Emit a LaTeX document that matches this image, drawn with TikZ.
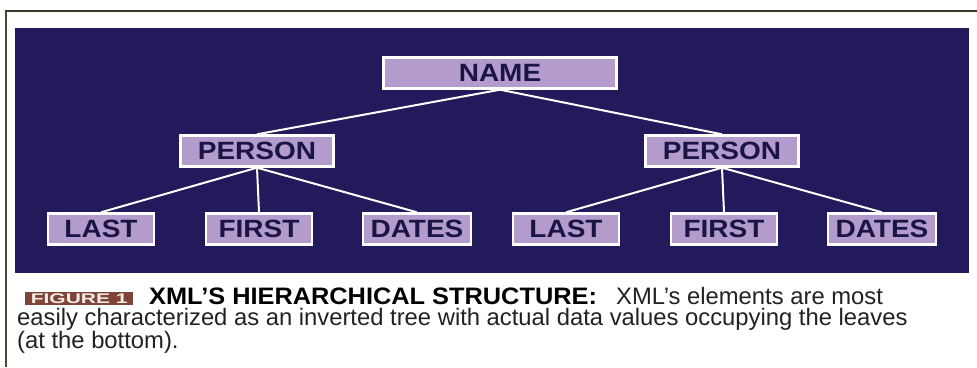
\documentclass[tikz,border=0pt]{standalone}
\usepackage{fontspec}
\usepackage{graphicx}
\usetikzlibrary{backgrounds}
\setmainfont{Liberation Sans}
\definecolor{panel}{HTML}{221A5A}
\definecolor{boxfill}{HTML}{B39CCB}
\definecolor{boxtext}{HTML}{1A1448}
\definecolor{badge}{HTML}{7E4438}
\definecolor{badgetext}{HTML}{F4ECE8}
\definecolor{rule}{HTML}{3A3A24}
\definecolor{captext}{HTML}{222222}
\newcommand{\wider}[2]{\scalebox{#1}[1]{#2}}
\newcommand{\figbadge}{\raisebox{-1pt}{\setlength{\fboxsep}{0pt}\colorbox{badge}{\vbox to 13pt{\vfil\hbox to 108pt{\hfil\textcolor{badgetext}{\bfseries\fontsize{14}{14}\selectfont\wider{1.5}{FIGURE 1}}\hfil}\vfil}}}}
\begin{document}
\begin{tikzpicture}[x=1pt,y=-1pt,
  tbox/.style={draw=white, line width=2.4pt, fill=boxfill, text=boxtext,
    font=\bfseries\fontsize{25}{25}\selectfont, inner sep=0pt, minimum height=31pt},
  link/.style={draw=white, line width=2pt}]
\useasboundingbox (0,0) rectangle (977,367);
% nodes
\node[tbox, minimum width=233pt] (name) at (500,73) {\wider{1.12}{NAME}};
\node[tbox, minimum width=153pt] (p1) at (257,151) {\wider{1.12}{PERSON}};
\node[tbox, minimum width=153pt] (p2) at (722,151) {\wider{1.12}{PERSON}};
\node[tbox, minimum width=106pt] (l1) at (101,229) {\wider{1.12}{LAST}};
\node[tbox, minimum width=106pt] (f1) at (259,229) {\wider{1.12}{FIRST}};
\node[tbox, minimum width=108pt] (d1) at (417,229) {\wider{1.12}{DATES}};
\node[tbox, minimum width=106pt] (l2) at (566,229) {\wider{1.12}{LAST}};
\node[tbox, minimum width=106pt] (f2) at (724,229) {\wider{1.12}{FIRST}};
\node[tbox, minimum width=108pt] (d2) at (882,229) {\wider{1.12}{DATES}};
\begin{scope}[on background layer]
\fill[white] (0,0) rectangle (977,367);
\draw[rule, line width=2pt] (5,11) -- (977,11);
\draw[rule!80!gray, line width=2pt] (6,11) -- (6,367);
\fill[panel] (15,28) rectangle (969,273);
% connectors
\draw[link] (name.south) -- (p1.north);
\draw[link] (name.south) -- (p2.north);
\draw[link] (p1.south) -- (l1.north);
\draw[link] (p1.south) -- (f1.north);
\draw[link] (p1.south) -- (d1.north);
\draw[link] (p2.south) -- (l2.north);
\draw[link] (p2.south) -- (f2.north);
\draw[link] (p2.south) -- (d2.north);
\end{scope}
% caption
\node[anchor=base west, inner sep=0pt, text=captext] (caption) at (17,304)
  {\parbox[t]{950pt}{\fontsize{23.8}{21.5}\selectfont\raggedright
   \makebox[132pt][l]{\hspace*{8pt}\figbadge}\makebox[467pt][l]{\textcolor{black}{\bfseries\wider{1.065}{XML’S HIERARCHICAL STRUCTURE:}}}XML's elements are most\\
   easily characterized as an inverted tree with actual data values occupying the leaves\\
   (at the bottom).}};
\end{tikzpicture}
\end{document}
